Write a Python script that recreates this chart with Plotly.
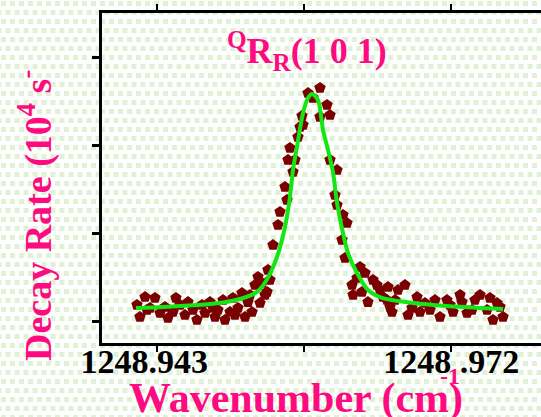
import base64
import plotly.graph_objects as go

# ---- data ----
wavenumber = [
    1248.94103, 1248.94132, 1248.94182, 1248.94202, 1248.94231, 1248.94280, 1248.94330,
    1248.94379, 1248.94408, 1248.94458, 1248.94487, 1248.94527, 1248.94576, 1248.94606,
    1248.94655, 1248.94694, 1248.94744, 1248.94773, 1248.94823, 1248.94852, 1248.94872,
    1248.94901, 1248.94951, 1248.94970, 1248.95020, 1248.95049, 1248.95069, 1248.95099,
    1248.95138, 1248.95168, 1248.95197, 1248.95217, 1248.95237, 1248.95266, 1248.95296,
    1248.95316, 1248.95335, 1248.95365, 1248.95385, 1248.95394, 1248.95414, 1248.95444,
    1248.95493, 1248.95513, 1248.95562, 1248.95582, 1248.95592, 1248.95611, 1248.95641,
    1248.95661, 1248.95690, 1248.95710, 1248.95730, 1248.95740, 1248.95789, 1248.95838,
    1248.95907, 1248.95907, 1248.95976, 1248.96006, 1248.96006, 1248.96075, 1248.96055,
    1248.96075, 1248.96134, 1248.96173, 1248.96124, 1248.96154, 1248.96302, 1248.96351,
    1248.96223, 1248.96233, 1248.96272, 1248.96321, 1248.96430, 1248.96469, 1248.96499,
    1248.96380, 1248.96568, 1248.96528, 1248.96578, 1248.96597, 1248.96617, 1248.96647,
    1248.96676, 1248.96745, 1248.96775, 1248.96814, 1248.96864, 1248.96893, 1248.96942,
    1248.96992, 1248.97041, 1248.97090, 1248.97159, 1248.97189, 1248.97219, 1248.97288,
    1248.97307, 1248.97357, 1248.97406, 1248.97435, 1248.97485, 1248.97554, 1248.97583,
    1248.97613, 1248.97652, 1248.97682, 1248.97712,
]
decay_rate = [
    0.193, 0.057, 0.283, 0.136, 0.159, 0.272, 0.102,
    0.170, 0.045, 0.113, 0.272, 0.193, 0.079, 0.226,
    0.136, 0.023, 0.193, 0.102, 0.226, 0.159, 0.057,
    0.136, 0.249, 0.023, 0.113, 0.272, 0.079, 0.159,
    0.328, 0.057, 0.226, 0.306, 0.113, 0.419, 0.510,
    0.215, 0.442, 0.306, 0.340, 0.589, 0.476, 0.872,
    1.099, 1.246, 1.529, 1.382, 1.835, 1.971, 1.699,
    1.835, 2.095, 2.208, 2.333, 2.231, 2.593, 2.537,
    2.650, 2.322, 2.458, 2.344, 1.835, 1.721, 1.438,
    1.325, 1.212, 1.121, 0.929, 0.725, 0.623, 0.555,
    0.419, 0.306, 0.498, 0.340, 0.476, 0.419, 0.362,
    0.226, 0.249, 0.283, 0.396, 0.170, 0.113, 0.249,
    0.362, 0.419, 0.079, 0.159, 0.283, 0.113, 0.215,
    0.136, 0.249, 0.057, 0.249, 0.193, 0.113, 0.306,
    0.226, 0.102, 0.136, 0.249, 0.306, 0.136, 0.272,
    0.023, 0.215, 0.170, 0.057,
]

fit_wavenumber = [
    1248.94093, 1248.94359, 1248.94694, 1248.94921, 1248.95118, 1248.95286, 1248.95375,
    1248.95483, 1248.95562, 1248.95611, 1248.95641, 1248.95680, 1248.95740, 1248.95789,
    1248.95828, 1248.95887, 1248.95937, 1248.95986, 1248.96035, 1248.96075, 1248.96134,
    1248.96183, 1248.96272, 1248.96380, 1248.96519, 1248.96824, 1248.97159, 1248.97485,
    1248.97712,
]
fit_rate = [
    0.159, 0.170, 0.193, 0.215, 0.260, 0.340, 0.464,
    0.736, 1.076, 1.416, 1.721, 1.982, 2.367, 2.537,
    2.582, 2.514, 2.174, 1.948, 1.699, 1.348, 1.008,
    0.781, 0.555, 0.362, 0.272, 0.215, 0.181, 0.159,
    0.147,
]

x_tick_vals = [1248.943, 1248.9575, 1248.972]
x_tick_text = ["<b>1248.943</b>\u00a0\u00a0\u00a0", " ", "<b>1248 .972</b>"]
y_tick_vals = [0, 1, 2, 3]

PINK = "#ff0a80"
SERIF = "Liberation Serif"

# ---- dotted green background ----
svg = (
    '<svg xmlns="http://www.w3.org/2000/svg" width="541" height="417" '
    'preserveAspectRatio="none"><defs>'
    '<pattern id="p" width="9" height="18" patternUnits="userSpaceOnUse">'
    '<rect x="1" y="1" width="5" height="5" fill="#e1f1d6"/>'
    '<rect x="5.5" y="10" width="5" height="5" fill="#e1f1d6"/>'
    '<rect x="-3.5" y="10" width="5" height="5" fill="#e1f1d6"/>'
    '</pattern></defs>'
    '<rect width="541" height="417" fill="#ffffff"/>'
    '<rect width="541" height="417" fill="url(#p)"/></svg>'
)
bg_src = "data:image/svg+xml;base64," + base64.b64encode(svg.encode()).decode()

W, H = 541, 417
ML, MR, MT, MB = 102, 0, 13, 74
PW, PH = W - ML - MR, H - MT - MB

fig = go.Figure()
fig.add_trace(go.Scatter(
    x=wavenumber, y=decay_rate, mode="markers",
    marker=dict(symbol="pentagon", size=12, color="#7a0000", line=dict(width=0)),
    showlegend=False, hoverinfo="skip", cliponaxis=False,
))
fig.add_trace(go.Scatter(
    x=fit_wavenumber, y=fit_rate, mode="lines",
    line=dict(color="#14e614", width=4, shape="spline", smoothing=0.8),
    showlegend=False, hoverinfo="skip",
))

fig.update_layout(
    width=W, height=H,
    margin=dict(l=ML, r=MR, t=MT, b=MB, pad=0, autoexpand=False),
    paper_bgcolor="#ffffff",
    plot_bgcolor="rgba(0,0,0,0)",
    images=[dict(
        source=bg_src, xref="paper", yref="paper",
        x=-ML / PW, y=1 + MT / PH, sizex=W / PW, sizey=H / PH,
        xanchor="left", yanchor="top", sizing="stretch", layer="below",
    )],
    xaxis=dict(
        range=[1248.93758, 1248.98086], showgrid=False, zeroline=False,
        automargin=False,
        showline=True, linecolor="black", linewidth=3, mirror="ticks",
        ticks="outside", ticklen=6, tickwidth=2, tickcolor="black",
        tickvals=x_tick_vals, ticktext=x_tick_text,
        ticklabelstandoff=-20,
        tickfont=dict(family=SERIF, size=34, color="black"),
    ),
    yaxis=dict(
        range=[-0.238, 3.499], showgrid=False, zeroline=False,
        automargin=False,
        showline=True, linecolor="black", linewidth=3, mirror=False,
        ticks="outside", ticklen=7, tickwidth=3, tickcolor="black",
        tickvals=y_tick_vals, showticklabels=False,
    ),
    annotations=[
        dict(text="<b><sup>Q</sup>R<sub>R</sub>(1 0 1)</b>", xref="paper", yref="paper",
             x=(307 - ML) / PW, y=(343 - 51) / PH, xanchor="center", yanchor="middle",
             showarrow=False, font=dict(family=SERIF, size=36, color=PINK)),
        dict(text="<b>Wavenumber (cm)</b>", xref="paper", yref="paper",
             x=(296 - ML) / PW, y=(343 - 398) / PH, xanchor="center", yanchor="middle",
             showarrow=False, font=dict(family=SERIF, size=42, color=PINK)),
        dict(text="<b>-1</b>", xref="paper", yref="paper",
             x=(450 - ML) / PW, y=(343 - 376) / PH, xanchor="center", yanchor="middle",
             showarrow=False, font=dict(family=SERIF, size=24, color=PINK)),
        dict(text="<b>Decay Rate (10<sup>4</sup> s<sup>-</sup></b>", xref="paper", yref="paper",
             x=(35 - ML) / PW, y=(343 - 216) / PH, xanchor="center", yanchor="middle",
             textangle=-90, showarrow=False, font=dict(family=SERIF, size=38, color=PINK)),
    ],
)

fig.write_html(
    "out.html",
    config={"displayModeBar": False},
    post_script="document.body.style.margin='0';document.body.style.overflow='hidden';",
)
